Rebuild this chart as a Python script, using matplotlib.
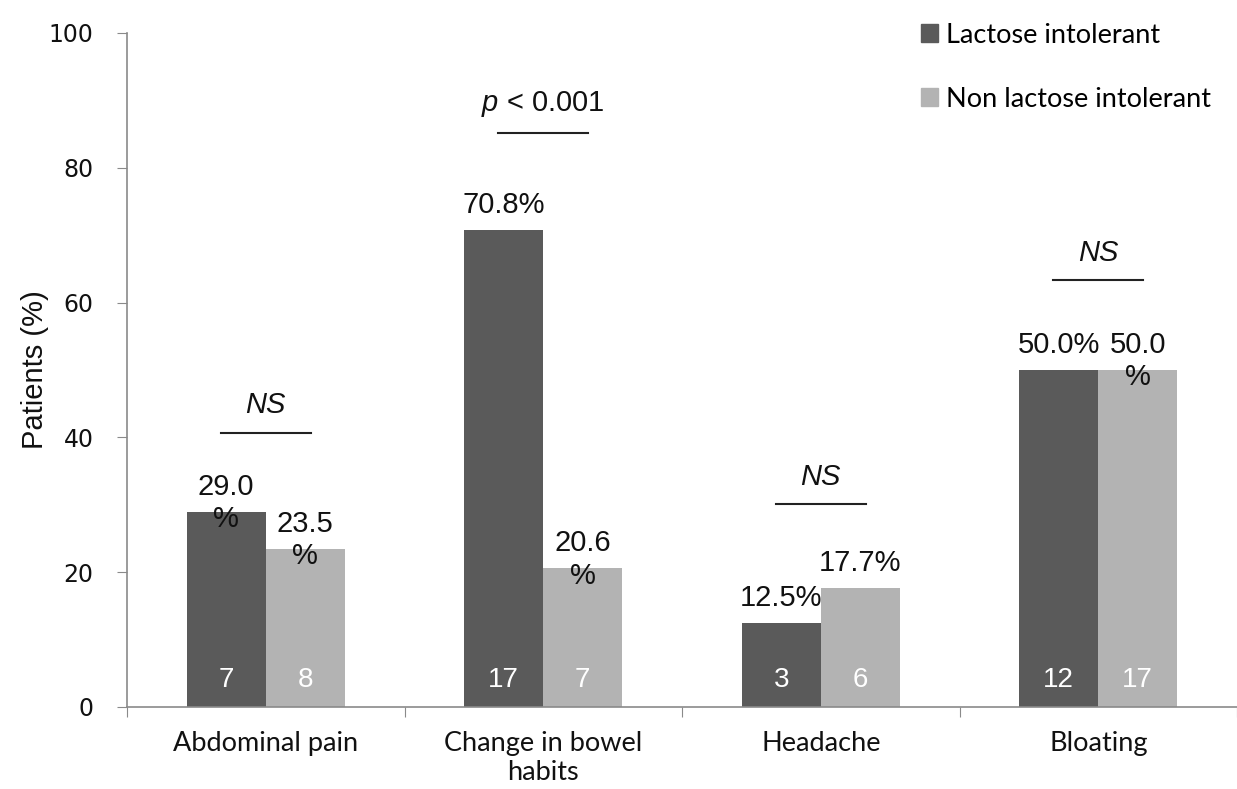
import matplotlib
matplotlib.use('Agg')
import matplotlib.pyplot as plt
from matplotlib.patches import Patch
import numpy as np

plt.rcParams['mathtext.fontset'] = 'custom'
plt.rcParams['mathtext.it'] = 'Liberation Sans:italic'
plt.rcParams['mathtext.rm'] = 'Liberation Sans'

categories = ['Abdominal pain', 'Change in bowel\nhabits', 'Headache', 'Bloating']
pct_li = [29.0, 70.8, 12.5, 50.0]
pct_non = [23.5, 20.6, 17.7, 50.0]
n_li = [7, 17, 3, 12]
n_non = [8, 7, 6, 17]
# labels that wrap onto two lines in the original
wrap_li = [True, False, False, False]
wrap_non = [True, True, False, True]
sig_text = ['NS', '$p$ < 0.001', 'NS', 'NS']
sig_y = [40.7, 85.2, 30.1, 63.3]

dark = '#5a5a5a'
light = '#b3b3b3'
axcol = '#8a8a8a'

fig = plt.figure(figsize=(12.37, 7.89), dpi=100)
ax = fig.add_axes([127 / 1237, 1 - 707 / 789, 1 - 127 / 1237, (707 - 33) / 789])

x = np.arange(len(categories))
w = 0.285
ax.bar(x - w / 2, pct_li, w, color=dark, label='Lactose intolerant')
ax.bar(x + w / 2, pct_non, w, color=light, label='Non lactose intolerant')

lab_font = dict(family='Liberation Sans', fontsize=21, color='#111111')
for i in range(len(categories)):
    for xpos, v, n, wr in [(x[i] - w / 2, pct_li[i], n_li[i], wrap_li[i]),
                           (x[i] + w / 2, pct_non[i], n_non[i], wrap_non[i])]:
        if wr:
            ax.text(xpos, v + 1.3, '%.1f\n%%' % v, ha='center', va='center',
                    linespacing=1.2, **lab_font)
        else:
            ax.text(xpos, v + 1.6, '%.1f%%' % v, ha='center', va='bottom', **lab_font)
        ax.text(xpos, 4.0, str(n), ha='center', va='center', family='Liberation Sans',
                fontsize=20, color='white')
    # significance marker
    ax.plot([x[i] - 0.162, x[i] + 0.162], [sig_y[i], sig_y[i]], color='#222222', lw=1.5)
    ax.text(x[i], sig_y[i] + 2.0, sig_text[i], ha='center', va='bottom',
            family='Liberation Sans', style='italic' if sig_text[i] == 'NS' else 'normal',
            fontsize=21, color='#111111')

ax.set_xlim(-0.5, len(categories) - 0.5)
ax.set_ylim(0, 100)
ax.set_yticks(range(0, 101, 20))
ax.set_xticks(np.arange(-0.5, len(categories), 1.0))
ax.set_xticklabels([])
ax.set_xticks(x, minor=True)
ax.set_xticklabels(categories, minor=True, family='Lato', fontsize=19.5, color='#111111',
                   linespacing=1.2)
ax.tick_params(axis='x', which='minor', length=0, pad=17)
ax.tick_params(axis='x', which='major', length=7, color=axcol, direction='out')
ax.tick_params(axis='y', length=7, color=axcol, direction='out', pad=17, labelsize=17,
               labelcolor='#111111')

for s in ['top', 'right']:
    ax.spines[s].set_visible(False)
for s in ['left', 'bottom']:
    ax.spines[s].set_color(axcol)
    ax.spines[s].set_linewidth(1.2)

ax.set_ylabel('Patients (%)', family='Liberation Sans', fontsize=21, color='#111111', labelpad=0)

handles = [Patch(color=dark), Patch(color=light)]
fig.legend(handles, ['Lactose intolerant', 'Non lactose intolerant'], loc='upper left',
           bbox_to_anchor=(907 / 1237, 1 - 9 / 789), frameon=False, borderpad=0,
           prop={'family': 'Lato', 'size': 19.5}, handlelength=0.65, handleheight=0.65,
           handletextpad=0.3, labelspacing=1.45)

fig.savefig('out.png', dpi=100)
